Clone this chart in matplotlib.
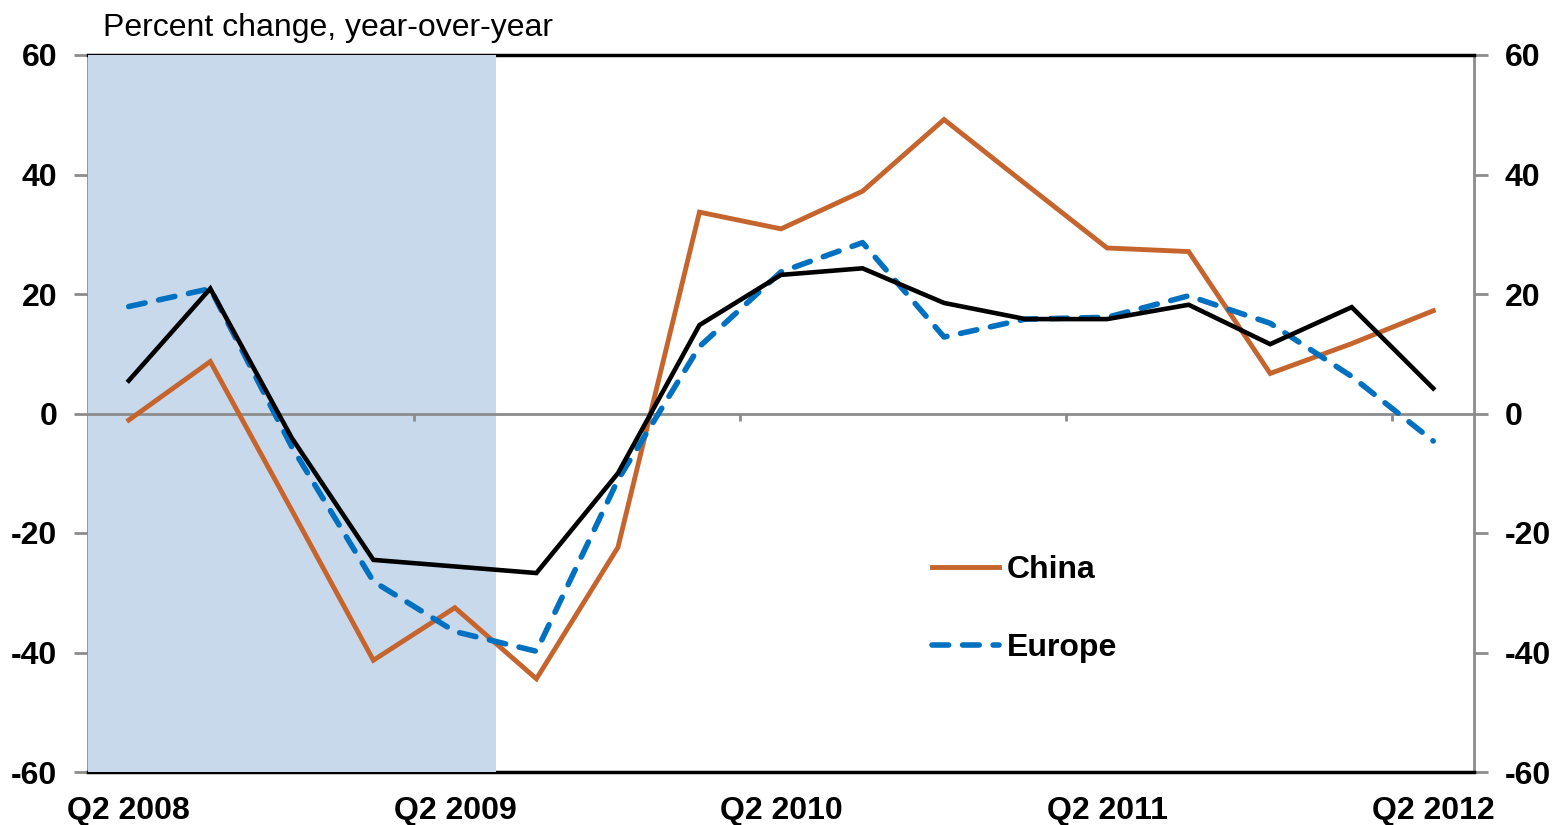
import numpy as np
import matplotlib
matplotlib.use("Agg")
import matplotlib.pyplot as plt
from matplotlib.lines import Line2D

plt.rcParams['font.family'] = ['Liberation Sans', 'DejaVu Sans']

quarters = ["Q2 2008", "Q3 2008", "Q4 2008", "Q1 2009", "Q2 2009", "Q3 2009",
            "Q4 2009", "Q1 2010", "Q2 2010", "Q3 2010", "Q4 2010", "Q1 2011",
            "Q2 2011", "Q3 2011", "Q4 2011", "Q1 2012", "Q2 2012"]
china = [-1.1, 8.7, -16.2, -41.3, -32.5, -44.4, -22.4, 33.7, 30.9, 37.2, 49.2,
         38.4, 27.7, 27.1, 6.7, 11.7, 17.2]
europe = [17.9, 20.9, -5.6, -28.1, -36.5, -39.8, -11.1, 11.2, 23.7, 28.6, 12.8,
          15.8, 16.1, 19.7, 15.1, 6.2, -4.6]
total = [5.5, 20.9, -4.1, -24.5, -25.6, -26.7, -10.0, 14.8, 23.2, 24.3, 18.5,
         15.8, 15.8, 18.2, 11.6, 17.8, 4.2]
recession_quarters = 5  # Q2 2008 - Q2 2009 shaded
yticks = [-60, -40, -20, 0, 20, 40, 60]

C_CHINA = '#C5652D'
C_EUROPE = '#0070C0'
GREY = '#8C8C8C'
FS = 23

x = np.arange(len(quarters))

fig = plt.figure(figsize=(15.54, 8.25), dpi=100)
ax = fig.add_axes([88 / 1554, 1 - 772 / 825, (1474 - 88) / 1554, (772 - 55) / 825])

ax.axvspan(-0.5, recession_quarters - 0.5, color='#C9D9EC', zorder=2.6, lw=0)
ax.axhline(0, color=GREY, lw=2, zorder=3)
# small category ticks on the zero line, once a year
for b in np.arange(3.5, len(quarters) - 1, 4):
    ax.plot([b, b], [0, -1.3], color=GREY, lw=2, zorder=3, solid_capstyle='butt')

ax.plot(x, china, color=C_CHINA, lw=3.5, zorder=4, solid_joinstyle='miter')
ax.plot(x, europe, color=C_EUROPE, lw=4.0, zorder=5, dashes=(3.0, 2.5),
        dash_capstyle='round')
ax.plot(x, total, color='black', lw=3.3, zorder=6, solid_joinstyle='miter')

ax.set_xlim(-0.5, len(quarters) - 0.5)
ax.set_ylim(-60, 60)

ax.set_xticks(x[::4])
ax.set_xticklabels([quarters[i] for i in x[::4]], fontsize=FS, fontweight='bold')
ax.tick_params(axis='x', length=0, pad=17)

ax.set_yticks(yticks)
ax.set_yticklabels([str(v) for v in yticks], fontsize=FS, fontweight='bold')
ax.tick_params(axis='y', which='both', direction='out', length=10, width=2,
               color=GREY, pad=12, left=True, right=True, labelleft=True,
               labelright=True)

for side in ['left', 'right']:
    ax.spines[side].set_color(GREY)
    ax.spines[side].set_linewidth(2)
for side in ['top', 'bottom']:
    ax.spines[side].set_color('black')
    ax.spines[side].set_linewidth(2.5)

handles = [Line2D([], [], color=C_CHINA, lw=3.5),
           Line2D([], [], color=C_EUROPE, lw=4.0, dashes=(3.0, 2.5),
                  dash_capstyle='round')]
leg = ax.legend(handles, ['China', 'Europe'], loc='center left',
                bbox_to_anchor=((932 - 88) / 1386, (772 - 609) / 717),
                frameon=False, borderpad=0, borderaxespad=0, handlelength=2.1,
                handletextpad=0.25, labelspacing=1.5,
                prop={'size': FS, 'weight': 'bold'})

fig.text(103 / 1554, 1 - 36 / 825, "Percent change, year-over-year",
         fontsize=FS, ha='left', va='baseline')

fig.savefig("out.png", dpi=100)
